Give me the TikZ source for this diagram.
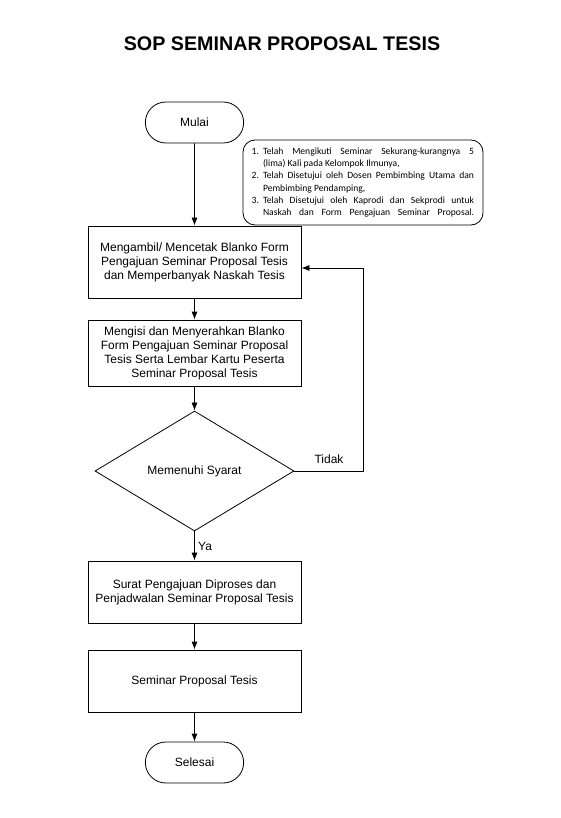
\documentclass[tikz,border=0pt]{standalone}
\usepackage{fontspec}
\setmainfont{Liberation Sans}
\newfontfamily\notefont{Carlito}
\usepackage{enumitem}
\usetikzlibrary{shapes.geometric,shapes.misc,arrows.meta}

\begin{document}
\begin{tikzpicture}[x=1pt,y=-1pt,
        proses/.style={draw,thick,rectangle,minimum width=213pt,align=center,font=\fontsize{12}{14}\selectfont},
        terminal/.style={draw,thick,rounded rectangle,minimum width=105pt,minimum height=41pt,font=\fontsize{12}{14}\selectfont},
        keputusan/.style={draw,thick,diamond,inner sep=0pt,minimum width=199pt,minimum height=120pt,font=\fontsize{12}{14}\selectfont},
        catatan/.style={draw,thick,rounded corners=12pt,minimum width=240pt,minimum height=85pt,inner sep=0pt},
        panah/.style={thick,-{Latex[length=8pt,width=6pt]}},
        label/.style={font=\fontsize{12}{14}\selectfont}]
        \useasboundingbox (0,0) rectangle (560,818);
        \node(j) at (282,43.7) {\fontsize{19.7}{22}\selectfont\bfseries SOP SEMINAR PROPOSAL TESIS};
        \node[terminal](a) at (194.5,122.5) {Mulai};
        \node[catatan](n) at (363,182.5) {\begin{minipage}{222pt}\notefont\fontsize{9.6}{12.3}\selectfont
                \hyphenpenalty=10000\exhyphenpenalty=10000
                \begin{enumerate}[leftmargin=11pt,labelsep=4pt,itemsep=0pt,topsep=0pt,parsep=0pt,partopsep=0pt,label=\arabic*.]
                \item Telah Mengikuti Seminar Sekurang-kurangnya 5\linebreak (lima) Kali pada Kelompok Ilmunya,
                \item Telah Disetujui oleh Dosen Pembimbing Utama dan\linebreak Pembimbing Pendamping,
                \item Telah Disetujui oleh Kaprodi dan Sekprodi untuk\linebreak Naskah dan Form Pengajuan Seminar Proposal.\parfillskip=0pt\par
                \end{enumerate}\end{minipage}};
        \node[proses,minimum height=72pt](b) at (194.5,262) {Mengambil/ Mencetak Blanko Form\\Pengajuan Seminar Proposal Tesis\\dan Memperbanyak Naskah Tesis};
        \node[proses,minimum height=66pt](c) at (194.5,353) {Mengisi dan Menyerahkan Blanko\\Form Pengajuan Seminar Proposal\\Tesis Serta Lembar Kartu Peserta\\Seminar Proposal Tesis};
        \node[keputusan](d) at (194.5,471) {Memenuhi Syarat};
        \node[proses,minimum height=62pt](e) at (194.5,592) {Surat Pengajuan Diproses dan\\Penjadwalan Seminar Proposal Tesis};
        \node[proses,minimum height=62pt](f) at (194.5,681) {Seminar Proposal Tesis};
        \node[terminal](g) at (194.5,762.5) {Selesai};
        \coordinate(t) at (363,268);
        \draw[panah](a)--(b);
        \draw[panah](b)--(c);
        \draw[panah](c)--(d);
        \draw[panah](d)--(e) node[label,midway,right] {Ya};
        \draw[panah](e)--(f);
        \draw[panah](f)--(g);
        \draw[panah](d.east) -| (t) -- (b.east |- t);
        \node[label](k) at (329,459) {Tidak};
        \end{tikzpicture}
\end{document}
